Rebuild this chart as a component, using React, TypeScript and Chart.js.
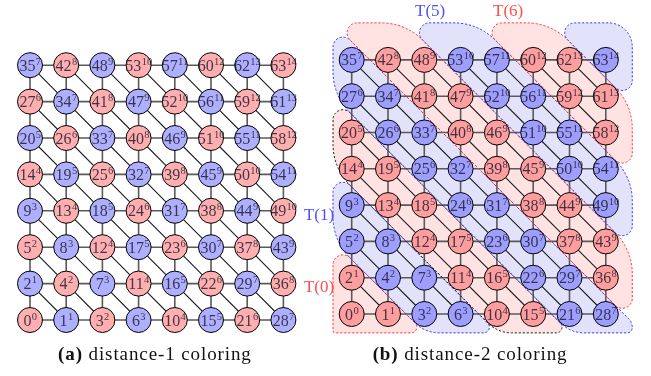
import React, { useEffect, useRef } from 'react';
import { Chart, registerables } from 'chart.js';
Chart.register(...registerables);

// ---------------- DATA ----------------
// Node numbers, row 0 (bottom) to row 7 (top), columns left to right
const ROW_IDS: number[][] = [
  [0, 1, 3, 6, 10, 15, 21, 28],
  [2, 4, 7, 11, 16, 22, 29, 36],
  [5, 8, 12, 17, 23, 30, 37, 43],
  [9, 13, 18, 24, 31, 38, 44, 49],
  [14, 19, 25, 32, 39, 45, 50, 54],
  [20, 26, 33, 40, 46, 51, 55, 58],
  [27, 34, 41, 47, 52, 56, 59, 61],
  [35, 42, 48, 53, 57, 60, 62, 63],
];
// Superscripts (levels), same layout
const ROW_LEVELS: number[][] = [
  [0, 1, 2, 3, 4, 5, 6, 7],
  [1, 2, 3, 4, 5, 6, 7, 8],
  [2, 3, 4, 5, 6, 7, 8, 9],
  [3, 4, 5, 6, 7, 8, 9, 10],
  [4, 5, 6, 7, 8, 9, 10, 11],
  [5, 6, 7, 8, 9, 10, 11, 12],
  [6, 7, 8, 9, 10, 11, 12, 13],
  [7, 8, 9, 10, 11, 12, 13, 14],
];
// Tasks of the distance-2 coloring: each groups a range of levels
const TASK_NAMES = ['T(0)', 'T(1)', 'T(2)', 'T(3)', 'T(4)', 'T(5)', 'T(6)', 'T(7)'];
const TASK_FIRST_LEVEL = [0, 2, 4, 6, 8, 10, 12, 14];
const TASK_LAST_LEVEL = [1, 3, 5, 7, 9, 11, 13, 14];
const TASK_COLOR = ['red', 'blue', 'red', 'blue', 'red', 'blue', 'red', 'blue'];
const TASK_BORDER = ['red', 'blue', 'black', 'blue', 'red', 'blue', 'red', 'blue'];
const LABELED_TASKS = ['T(0)', 'T(1)', 'T(5)', 'T(6)'];
const CAPTION_TAGS = ['(a)', '(b)'];
const CAPTION_TEXTS = [' distance-1 coloring', ' distance-2 coloring'];

// ---------------- STYLE / LAYOUT ----------------
const W = 651, H = 376;
const SERIF = '"Liberation Serif", "DejaVu Serif", serif';
const LEFT = { ox: 30, oy: 320, px: 36.2, py: 36.4 };
const RIGHT = { ox: 351.7, oy: 314, px: 36.3, py: 36.3 };
const REGION_BOX = { cMin: -0.515, cMax: 7.73, rMin: -0.52, rMax: 8.02 };
const TASK_LABEL_POS: Record<string, [number, number]> = {
  'T(5)': [2.16, 8.32], 'T(6)': [4.31, 8.32], 'T(1)': [-0.9, 2.72], 'T(0)': [-0.9, 0.72],
};
const CAPTION_POS: [number, number][] = [[3.45, -0.97], [3.26, -1.13]];
const COLORS = {
  nodeRedL: '#ffafaf', nodeBlueL: '#afafff',
  nodeRedR: '#ff9e9e', nodeBlueR: '#9e9eff',
  fillRed: '#ffe2e2', fillBlue: '#e2e2fa',
  red: '#ff3a3a', blue: '#3a3aff', black: '#222',
  labRed: '#ff4d4d', labBlue: '#5050ff',
};

function scaleLimits(o: { ox: number; oy: number; px: number; py: number }) {
  return {
    xmin: -o.ox / o.px, xmax: (W - o.ox) / o.px,
    ymin: -(H - o.oy) / o.py, ymax: o.oy / o.py,
  };
}

type P = { x: number; y: number };

function clipHalf(poly: P[], f: (p: P) => number): P[] {
  const out: P[] = [];
  for (let i = 0; i < poly.length; i++) {
    const a = poly[i], b = poly[(i + 1) % poly.length];
    const fa = f(a), fb = f(b);
    if (fa >= 0) out.push(a);
    if ((fa >= 0) !== (fb >= 0)) {
      const t = fa / (fa - fb);
      out.push({ x: a.x + (b.x - a.x) * t, y: a.y + (b.y - a.y) * t });
    }
  }
  return out;
}

function roundedPath(ctx: CanvasRenderingContext2D, pts: P[], dists: number[]) {
  const n = pts.length;
  const m = { x: (pts[n - 1].x + pts[0].x) / 2, y: (pts[n - 1].y + pts[0].y) / 2 };
  ctx.beginPath();
  ctx.moveTo(m.x, m.y);
  for (let i = 0; i < n; i++) {
    const p = pts[i], prev = pts[(i - 1 + n) % n], next = pts[(i + 1) % n];
    const ax = prev.x - p.x, ay = prev.y - p.y, bx = next.x - p.x, by = next.y - p.y;
    const la = Math.hypot(ax, ay), lb = Math.hypot(bx, by);
    const d = Math.min(dists[i], la / 2, lb / 2);
    const cos = (ax * bx + ay * by) / (la * lb);
    const th = Math.acos(Math.max(-1, Math.min(1, cos)));
    const r = d * Math.tan(th / 2);
    ctx.arcTo(p.x, p.y, next.x, next.y, r);
  }
  ctx.closePath();
}

const graphPlugin = {
  id: 'graphPlugin',
  beforeDatasetsDraw(chart: any) {
    const ctx: CanvasRenderingContext2D = chart.ctx;
    const s = chart.scales;
    const panels = [
      { x: s.xl, y: s.yl },
      { x: s.xr, y: s.yr },
    ];
    ctx.save();
    // ---- task regions (right panel) ----
    const { x: sx, y: sy } = panels[1];
    const shapes: { pts: P[]; d: number[]; i: number }[] = [];
    TASK_NAMES.forEach((_, i) => {
      const lo = i === 0 ? -1e9 : TASK_FIRST_LEVEL[i] - 0.5;
      const hi = i === TASK_NAMES.length - 1 ? 1e9 : TASK_LAST_LEVEL[i] + 0.5;
      const b = REGION_BOX;
      let poly: P[] = [
        { x: b.cMin, y: b.rMin }, { x: b.cMax, y: b.rMin },
        { x: b.cMax, y: b.rMax }, { x: b.cMin, y: b.rMax },
      ];
      poly = clipHalf(poly, (p) => p.x + p.y - lo);
      poly = clipHalf(poly, (p) => hi - (p.x + p.y));
      const px = poly.map((p) => ({
        x: sx.getPixelForValue(p.x), y: sy.getPixelForValue(p.y),
        sharp: Math.abs(p.y - b.rMin) < 1e-6 && Math.abs(p.x - b.cMin) < 1e-6,
        bottom: Math.abs(p.y - b.rMin) < 1e-6,
      }));
      const clean: any[] = [];
      px.forEach((p) => {
        const last = clean[clean.length - 1];
        if (!last || Math.hypot(p.x - last.x, p.y - last.y) > 2) clean.push(p);
      });
      if (clean.length > 2 && Math.hypot(clean[0].x - clean[clean.length - 1].x, clean[0].y - clean[clean.length - 1].y) <= 2) clean.pop();
      shapes.push({ pts: clean, d: clean.map((p: any) => (p.sharp ? 2 : p.bottom ? 14 : 24)), i });
    });
    shapes.forEach(({ pts, d, i }) => {
      roundedPath(ctx, pts, d);
      ctx.fillStyle = TASK_COLOR[i] === 'red' ? COLORS.fillRed : COLORS.fillBlue;
      ctx.fill();
    });
    // ---- edges (both panels) ----
    panels.forEach(({ x, y }) => {
      const seg = (c1: number, r1: number, c2: number, r2: number) => {
        ctx.moveTo(x.getPixelForValue(c1), y.getPixelForValue(r1));
        ctx.lineTo(x.getPixelForValue(c2), y.getPixelForValue(r2));
      };
      const n = ROW_IDS.length;
      ctx.setLineDash([]);
      ctx.beginPath();
      for (let r = 0; r + 1 < n; r++) for (let c = 0; c + 1 < n; c++) seg(c, r + 1, c + 1, r);
      ctx.strokeStyle = '#1a1a1a';
      ctx.lineWidth = 1.1;
      ctx.stroke();
      ctx.beginPath();
      for (let r = 0; r < n; r++) for (let c = 0; c < n; c++) {
        if (c + 1 < n) seg(c, r, c + 1, r);
        if (r + 1 < n) seg(c, r, c, r + 1);
      }
      ctx.strokeStyle = '#5a5a5a';
      ctx.lineWidth = 1.6;
      ctx.stroke();
    });
    // ---- dashed borders ----
    ctx.setLineDash([2.2, 1.8]);
    ctx.lineWidth = 1;
    shapes.forEach(({ pts, d, i }) => {
      roundedPath(ctx, pts, d);
      const bc = TASK_BORDER[i];
      ctx.strokeStyle = bc === 'red' ? COLORS.red : bc === 'blue' ? COLORS.blue : COLORS.black;
      ctx.stroke();
    });
    ctx.restore();
  },
  afterDatasetsDraw(chart: any) {
    const ctx: CanvasRenderingContext2D = chart.ctx;
    ctx.save();
    ctx.textBaseline = 'alphabetic';
    ctx.textAlign = 'left';
    chart.data.datasets.forEach((ds: any, di: number) => {
      const meta = chart.getDatasetMeta(di);
      meta.data.forEach((el: any, k: number) => {
        const d = ds.data[k];
        const base = String(d.id), sup = String(d.lvl);
        ctx.font = `16px ${SERIF}`;
        const w1 = ctx.measureText(base).width;
        ctx.font = `10.5px ${SERIF}`;
        const w2 = ctx.measureText(sup).width;
        const x0 = el.x - (w1 + w2) / 2;
        ctx.fillStyle = 'rgba(30,30,50,0.85)';
        ctx.font = `16px ${SERIF}`;
        ctx.fillText(base, x0, el.y + 5.5);
        ctx.font = `10.5px ${SERIF}`;
        ctx.fillText(sup, x0 + w1 + 0.3, el.y - 0.5);
      });
    });
    // task labels
    const sx = chart.scales.xr, sy = chart.scales.yr;
    ctx.textAlign = 'center';
    ctx.textBaseline = 'middle';
    ctx.font = `17px ${SERIF}`;
    LABELED_TASKS.forEach((name) => {
      const i = TASK_NAMES.indexOf(name);
      const [c, r] = TASK_LABEL_POS[name];
      ctx.fillStyle = TASK_COLOR[i] === 'red' ? COLORS.labRed : COLORS.labBlue;
      ctx.fillText(name, sx.getPixelForValue(c), sy.getPixelForValue(r));
    });
    // captions
    const capScales = [[chart.scales.xl, chart.scales.yl], [chart.scales.xr, chart.scales.yr]];
    ctx.textAlign = 'left';
    ctx.fillStyle = '#111';
    (ctx as any).letterSpacing = '0.9px';
    CAPTION_TAGS.forEach((tag, i) => {
      const [cx, cy] = capScales[i];
      const [c, r] = CAPTION_POS[i];
      ctx.font = `bold 19px ${SERIF}`;
      const w1 = ctx.measureText(tag).width;
      ctx.font = `19px ${SERIF}`;
      const w2 = ctx.measureText(CAPTION_TEXTS[i]).width;
      const x0 = cx.getPixelForValue(c) - (w1 + w2) / 2;
      const y0 = cy.getPixelForValue(r);
      ctx.font = `bold 19px ${SERIF}`;
      ctx.fillText(tag, x0, y0);
      ctx.font = `19px ${SERIF}`;
      ctx.fillText(CAPTION_TEXTS[i], x0 + w1, y0);
    });
    ctx.restore();
  },
};

export default function App() {
  const ref = useRef<HTMLCanvasElement>(null);
  useEffect(() => {
    const canvas = ref.current!;
    const leftPts: any[] = [], leftCols: string[] = [];
    const rightPts: any[] = [], rightCols: string[] = [];
    ROW_IDS.forEach((row, r) => row.forEach((id, c) => {
      const lvl = ROW_LEVELS[r][c];
      leftPts.push({ x: c, y: r, id, lvl });
      leftCols.push(lvl % 2 === 0 ? COLORS.nodeRedL : COLORS.nodeBlueL);
      rightPts.push({ x: c, y: r, id, lvl });
      const t = TASK_FIRST_LEVEL.findIndex((f, i) => lvl >= f && lvl <= TASK_LAST_LEVEL[i]);
      rightCols.push(TASK_COLOR[t] === 'red' ? COLORS.nodeRedR : COLORS.nodeBlueR);
    }));
    const L = scaleLimits(LEFT), R = scaleLimits(RIGHT);
    const hidden = { display: false, grid: { display: false } };
    const chart = new Chart(canvas, {
      type: 'scatter',
      data: {
        datasets: [
          { data: leftPts, xAxisID: 'xl', yAxisID: 'yl', pointRadius: 12.5, pointHoverRadius: 12.5, pointBackgroundColor: leftCols, pointBorderColor: '#000', pointBorderWidth: 1, clip: false } as any,
          { data: rightPts, xAxisID: 'xr', yAxisID: 'yr', pointRadius: 12.5, pointHoverRadius: 12.5, pointBackgroundColor: rightCols, pointBorderColor: '#000', pointBorderWidth: 1, clip: false } as any,
        ],
      },
      options: {
        responsive: false,
        animation: false,
        devicePixelRatio: 1,
        events: [],
        layout: { padding: 0, autoPadding: false } as any,
        plugins: { legend: { display: false }, tooltip: { enabled: false }, title: { display: false } },
        scales: {
          xl: { type: 'linear', axis: 'x', position: 'bottom', min: L.xmin, max: L.xmax, ...hidden } as any,
          yl: { type: 'linear', axis: 'y', position: 'left', min: L.ymin, max: L.ymax, ...hidden } as any,
          xr: { type: 'linear', axis: 'x', position: 'bottom', min: R.xmin, max: R.xmax, ...hidden } as any,
          yr: { type: 'linear', axis: 'y', position: 'left', min: R.ymin, max: R.ymax, ...hidden } as any,
        },
      },
      plugins: [graphPlugin],
    });
    return () => chart.destroy();
  }, []);
  return (
    <div style={{ position: 'fixed', left: 0, top: 0, width: W, height: H, background: '#fff' }}>
      <canvas ref={ref} width={W} height={H} style={{ display: 'block', width: W, height: H }} />
    </div>
  );
}
